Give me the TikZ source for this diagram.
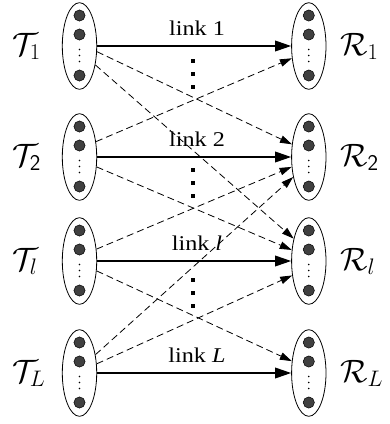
\documentclass[tikz,border=0pt]{standalone}
\usepackage{fontspec}
\setmainfont{Liberation Serif}
\DeclareMathSizes{24.88}{24.88}{17.28}{12}
\usetikzlibrary{arrows.meta,shapes.geometric,calc}
\begin{document}
\begin{tikzpicture}[x=1pt,y=-1pt,
  grp/.style={ellipse, draw, line width=0.8pt, minimum width=34.4pt, minimum height=86.6pt, inner sep=0pt},
  dotc/.style={draw=black, line width=0.5pt, fill={rgb,255:red,64;green,64;blue,64}},
  linkarr/.style={line width=1.8pt, -{Triangle[length=16pt,width=10.5pt]}},
  crossarr/.style={line width=0.8pt, dash pattern=on 7pt off 4pt, -{Triangle[length=12pt,width=7.5pt]}},
  lbl/.style={font=\fontsize{21}{25}\selectfont, xscale=1.15, anchor=base, inner sep=0pt},
  mlbl/.style={font=\Huge, anchor=base west, inner sep=0pt, scale=1.3, transform shape},
  sq/.style={fill=black}
]
\useasboundingbox (0,0) rectangle (390,424);
\foreach \n/\x/\y in {T1/79.5/46, T2/79.5/157, Tl/79.5/261, TL/79.5/373, R1/308.8/46, R2/308.8/157, Rl/308.8/261, RL/308.8/373}{
  \node[grp] (\n) at (\x,\y) {};
  \foreach \d in {-30.5,-11.5,29.5} \filldraw[dotc] ({\x},{\y+(\d)}) circle[radius=5.6pt];
  \foreach \d in {3.5,9.5,15.5} \fill ({\x},{\y+(\d)}) circle[radius=0.9pt];
}
% vertical ellipses between links
\foreach \y in {61,74,87,170,183,196,280,293,306}
  \fill[sq] ({193-2},{\y-2}) rectangle ++(4,4);
% solid links
\draw[linkarr] (T1) -- (R1);
\draw[linkarr] (T2) -- (R2);
\draw[linkarr] (Tl) -- (Rl);
\draw[linkarr] (TL) -- (RL);
% link labels
\node[lbl] (l1) at (197,35) {link 1};
\node[lbl] (l2) at (197,146) {link 2};
\node[lbl] (ll) at (197,250) {link \textit{l}};
\node[lbl] (lL) at (197,362) {link \textit{L}};
% cross links
\draw[crossarr] (T1.-18.5) -- (R2.143);
\draw[crossarr] (T1.-50.9) -- (Rl.124);
\draw[crossarr] (T2.43.6) -- (R1.216);
\draw[crossarr] (T2.-30.1) -- (Rl.147.8);
\draw[crossarr] (Tl.35.2) -- (R2.210.9);
\draw[crossarr] (Tl.-30.9) -- (RL.145);
\draw[crossarr] (TL.49.6) -- (R2.232.7);
\draw[crossarr] (TL.28.2) -- (Rl.221.8);
% set labels
\node[mlbl] (tT1) at (12,55) {$\mathcal{T}_1$};
\node[mlbl] (tT2) at (12,166) {$\mathcal{T}_{\mathsf{2}}$};
\node[mlbl] (tTl) at (12,270) {$\mathcal{T}_l$};
\node[mlbl] (tTL) at (12,382) {$\mathcal{T}_L$};
\node[mlbl] (tR1) at (340,55) {$\mathcal{R}_1$};
\node[mlbl] (tR2) at (340,166) {$\mathcal{R}_{\mathsf{2}}$};
\node[mlbl] (tRl) at (340,270) {$\mathcal{R}_l$};
\node[mlbl] (tRL) at (340,382) {$\mathcal{R}_L$};
\end{tikzpicture}
\end{document}
